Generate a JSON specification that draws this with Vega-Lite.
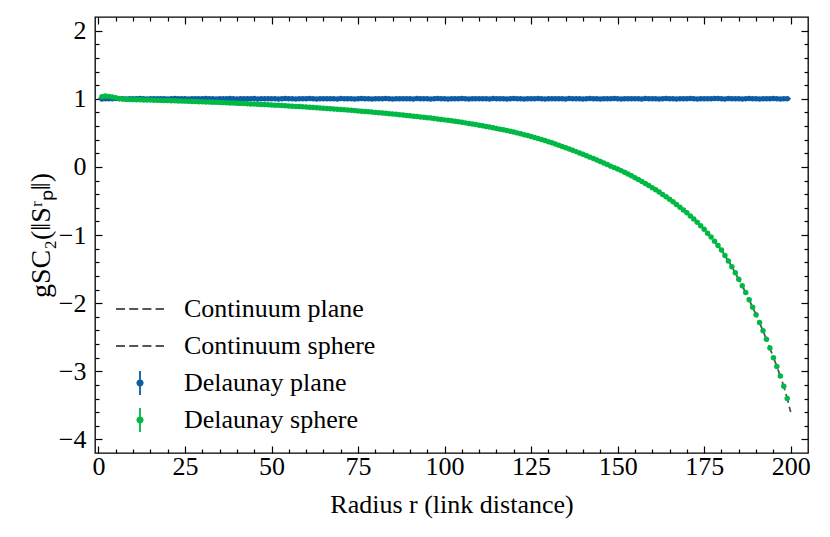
{
"$schema": "https://vega.github.io/schema/vega-lite/v6.json",
"width": 713, "height": 436,
"autosize": {"type": "none"},
"padding": {"left": 95, "top": 17, "right": 22, "bottom": 84},
"config": {
  "font": "Liberation Serif",
  "view": {"stroke": "#000", "strokeWidth": 1.3},
  "axis": {"domain": false, "grid": false, "tickColor": "#000", "tickWidth": 1.2, "labelColor": "#000", "titleColor": "#000", "labelFontSize": 26, "titleFontSize": 26, "titleFontWeight": "normal", "labelFont": "Liberation Serif", "titleFont": "Liberation Serif"}
},
"datasets": {
  "cplane": [{"r":0,"v":1},{"r":200,"v":1}],
  "csphere": [{"r":0,"v":1},{"r":10,"v":0.99},{"r":20,"v":0.975},{"r":30,"v":0.957},{"r":40,"v":0.935},{"r":50,"v":0.91},{"r":60,"v":0.878},{"r":70,"v":0.842},{"r":80,"v":0.8},{"r":90,"v":0.75},{"r":100,"v":0.69},{"r":110,"v":0.612},{"r":120,"v":0.512},{"r":130,"v":0.37},{"r":140,"v":0.185},{"r":150,"v":-0.03},{"r":155,"v":-0.158},{"r":160,"v":-0.305},{"r":165,"v":-0.475},{"r":170,"v":-0.675},{"r":175,"v":-0.915},{"r":180,"v":-1.22},{"r":183,"v":-1.465},{"r":186,"v":-1.745},{"r":188,"v":-1.95},{"r":190,"v":-2.17},{"r":192,"v":-2.405},{"r":194,"v":-2.66},{"r":196,"v":-2.93},{"r":198,"v":-3.22},{"r":199,"v":-3.4},{"r":200,"v":-3.6}],
  "plane": [
{"r":1,"v":0.998},{"r":2,"v":1.001},{"r":3,"v":0.999},{"r":4,"v":1.0},{"r":5,"v":1.002},{"r":6,"v":0.999},{"r":7,"v":1.0},{"r":8,"v":0.998},{"r":9,"v":1.001},{"r":10,"v":1.0},
{"r":11,"v":0.999},{"r":12,"v":1.002},{"r":13,"v":1.0},{"r":14,"v":0.998},{"r":15,"v":1.001},{"r":16,"v":1.0},{"r":17,"v":0.999},{"r":18,"v":1.001},{"r":19,"v":1.0},{"r":20,"v":0.998},
{"r":21,"v":1.0},{"r":22,"v":1.002},{"r":23,"v":0.999},{"r":24,"v":1.0},{"r":25,"v":1.001},{"r":26,"v":0.998},{"r":27,"v":1.0},{"r":28,"v":1.001},{"r":29,"v":0.999},{"r":30,"v":1.0},
{"r":31,"v":1.002},{"r":32,"v":0.999},{"r":33,"v":1.0},{"r":34,"v":0.998},{"r":35,"v":1.001},{"r":36,"v":1.0},{"r":37,"v":0.999},{"r":38,"v":1.002},{"r":39,"v":1.0},{"r":40,"v":0.998},
{"r":41,"v":1.001},{"r":42,"v":1.0},{"r":43,"v":0.999},{"r":44,"v":1.0},{"r":45,"v":1.002},{"r":46,"v":0.998},{"r":47,"v":1.0},{"r":48,"v":1.001},{"r":49,"v":0.999},{"r":50,"v":1.0},
{"r":51,"v":1.001},{"r":52,"v":0.998},{"r":53,"v":1.0},{"r":54,"v":1.002},{"r":55,"v":0.999},{"r":56,"v":1.0},{"r":57,"v":0.998},{"r":58,"v":1.001},{"r":59,"v":1.0},{"r":60,"v":0.999},
{"r":61,"v":1.002},{"r":62,"v":1.0},{"r":63,"v":0.998},{"r":64,"v":1.001},{"r":65,"v":1.0},{"r":66,"v":0.999},{"r":67,"v":1.001},{"r":68,"v":1.0},{"r":69,"v":0.998},{"r":70,"v":1.002},
{"r":71,"v":0.999},{"r":72,"v":1.0},{"r":73,"v":1.001},{"r":74,"v":0.998},{"r":75,"v":1.0},{"r":76,"v":1.002},{"r":77,"v":0.999},{"r":78,"v":1.0},{"r":79,"v":0.998},{"r":80,"v":1.001},
{"r":81,"v":1.0},{"r":82,"v":0.999},{"r":83,"v":1.002},{"r":84,"v":1.0},{"r":85,"v":0.998},{"r":86,"v":1.001},{"r":87,"v":1.0},{"r":88,"v":0.999},{"r":89,"v":1.001},{"r":90,"v":1.0},
{"r":91,"v":0.998},{"r":92,"v":1.002},{"r":93,"v":0.999},{"r":94,"v":1.0},{"r":95,"v":1.001},{"r":96,"v":0.998},{"r":97,"v":1.0},{"r":98,"v":1.002},{"r":99,"v":0.999},{"r":100,"v":1.0},
{"r":101,"v":0.998},{"r":102,"v":1.001},{"r":103,"v":1.0},{"r":104,"v":0.999},{"r":105,"v":1.002},{"r":106,"v":1.0},{"r":107,"v":0.998},{"r":108,"v":1.001},{"r":109,"v":1.0},{"r":110,"v":0.999},
{"r":111,"v":1.001},{"r":112,"v":1.0},{"r":113,"v":0.998},{"r":114,"v":1.002},{"r":115,"v":0.999},{"r":116,"v":1.0},{"r":117,"v":1.001},{"r":118,"v":0.998},{"r":119,"v":1.0},{"r":120,"v":1.002},
{"r":121,"v":0.999},{"r":122,"v":1.0},{"r":123,"v":0.998},{"r":124,"v":1.001},{"r":125,"v":1.0},{"r":126,"v":0.999},{"r":127,"v":1.002},{"r":128,"v":1.0},{"r":129,"v":0.998},{"r":130,"v":1.001},
{"r":131,"v":1.0},{"r":132,"v":0.999},{"r":133,"v":1.001},{"r":134,"v":1.0},{"r":135,"v":0.998},{"r":136,"v":1.002},{"r":137,"v":0.999},{"r":138,"v":1.0},{"r":139,"v":1.001},{"r":140,"v":0.998},
{"r":141,"v":1.0},{"r":142,"v":1.002},{"r":143,"v":0.999},{"r":144,"v":1.0},{"r":145,"v":0.998},{"r":146,"v":1.001},{"r":147,"v":1.0},{"r":148,"v":0.999},{"r":149,"v":1.002},{"r":150,"v":1.0},
{"r":151,"v":0.998},{"r":152,"v":1.001},{"r":153,"v":1.0},{"r":154,"v":0.999},{"r":155,"v":1.001},{"r":156,"v":1.0},{"r":157,"v":0.998},{"r":158,"v":1.002},{"r":159,"v":0.999},{"r":160,"v":1.0},
{"r":161,"v":1.001},{"r":162,"v":0.998},{"r":163,"v":1.0},{"r":164,"v":1.002},{"r":165,"v":0.999},{"r":166,"v":1.0},{"r":167,"v":0.998},{"r":168,"v":1.001},{"r":169,"v":1.0},{"r":170,"v":0.999},
{"r":171,"v":1.002},{"r":172,"v":1.0},{"r":173,"v":0.998},{"r":174,"v":1.001},{"r":175,"v":1.0},{"r":176,"v":0.999},{"r":177,"v":1.001},{"r":178,"v":1.004},{"r":179,"v":1.003},{"r":180,"v":1.0},
{"r":181,"v":0.998},{"r":182,"v":1.002},{"r":183,"v":0.999},{"r":184,"v":1.0},{"r":185,"v":1.001},{"r":186,"v":0.998},{"r":187,"v":1.0},{"r":188,"v":1.002},{"r":189,"v":0.999},{"r":190,"v":1.0},
{"r":191,"v":0.998},{"r":192,"v":1.001},{"r":193,"v":1.0},{"r":194,"v":0.999},{"r":195,"v":1.002},{"r":196,"v":1.0},{"r":197,"v":0.998},{"r":198,"v":1.001},{"r":199,"v":1.0}
  ],
  "sphere": [
{"r":1,"v":1.03},{"r":2,"v":1.04},{"r":3,"v":1.035},{"r":4,"v":1.025},{"r":5,"v":1.015},{"r":6,"v":1.005},{"r":7,"v":0.998},{"r":8,"v":0.993},{"r":9,"v":0.99},{"r":10,"v":0.987},
{"r":11,"v":0.986},{"r":12,"v":0.985},{"r":13,"v":0.983},{"r":14,"v":0.982},{"r":15,"v":0.98},{"r":16,"v":0.979},{"r":17,"v":0.977},{"r":18,"v":0.976},{"r":19,"v":0.974},{"r":20,"v":0.973},
{"r":21,"v":0.971},{"r":22,"v":0.97},{"r":23,"v":0.968},{"r":24,"v":0.967},{"r":25,"v":0.965},{"r":26,"v":0.963},{"r":27,"v":0.961},{"r":28,"v":0.959},{"r":29,"v":0.957},{"r":30,"v":0.955},
{"r":31,"v":0.953},{"r":32,"v":0.951},{"r":33,"v":0.949},{"r":34,"v":0.947},{"r":35,"v":0.945},{"r":36,"v":0.943},{"r":37,"v":0.941},{"r":38,"v":0.938},{"r":39,"v":0.936},{"r":40,"v":0.934},
{"r":41,"v":0.932},{"r":42,"v":0.929},{"r":43,"v":0.927},{"r":44,"v":0.924},{"r":45,"v":0.922},{"r":46,"v":0.919},{"r":47,"v":0.917},{"r":48,"v":0.914},{"r":49,"v":0.912},{"r":50,"v":0.909},
{"r":51,"v":0.906},{"r":52,"v":0.903},{"r":53,"v":0.9},{"r":54,"v":0.897},{"r":55,"v":0.894},{"r":56,"v":0.891},{"r":57,"v":0.888},{"r":58,"v":0.885},{"r":59,"v":0.881},{"r":60,"v":0.878},
{"r":61,"v":0.875},{"r":62,"v":0.871},{"r":63,"v":0.868},{"r":64,"v":0.864},{"r":65,"v":0.861},{"r":66,"v":0.857},{"r":67,"v":0.853},{"r":68,"v":0.85},{"r":69,"v":0.846},{"r":70,"v":0.842},
{"r":71,"v":0.838},{"r":72,"v":0.834},{"r":73,"v":0.83},{"r":74,"v":0.826},{"r":75,"v":0.822},{"r":76,"v":0.818},{"r":77,"v":0.813},{"r":78,"v":0.809},{"r":79,"v":0.804},{"r":80,"v":0.8},
{"r":81,"v":0.795},{"r":82,"v":0.79},{"r":83,"v":0.786},{"r":84,"v":0.781},{"r":85,"v":0.776},{"r":86,"v":0.771},{"r":87,"v":0.766},{"r":88,"v":0.76},{"r":89,"v":0.755},{"r":90,"v":0.75},
{"r":91,"v":0.744},{"r":92,"v":0.739},{"r":93,"v":0.733},{"r":94,"v":0.728},{"r":95,"v":0.722},{"r":96,"v":0.716},{"r":97,"v":0.709},{"r":98,"v":0.703},{"r":99,"v":0.696},{"r":100,"v":0.69},
{"r":101,"v":0.683},{"r":102,"v":0.676},{"r":103,"v":0.669},{"r":104,"v":0.662},{"r":105,"v":0.654},{"r":106,"v":0.646},{"r":107,"v":0.638},{"r":108,"v":0.629},{"r":109,"v":0.621},{"r":110,"v":0.612},
{"r":111,"v":0.603},{"r":112,"v":0.594},{"r":113,"v":0.584},{"r":114,"v":0.574},{"r":115,"v":0.564},{"r":116,"v":0.554},{"r":117,"v":0.544},{"r":118,"v":0.533},{"r":119,"v":0.523},{"r":120,"v":0.512},
{"r":121,"v":0.499},{"r":122,"v":0.486},{"r":123,"v":0.473},{"r":124,"v":0.46},{"r":125,"v":0.446},{"r":126,"v":0.432},{"r":127,"v":0.417},{"r":128,"v":0.402},{"r":129,"v":0.386},{"r":130,"v":0.37},
{"r":131,"v":0.353},{"r":132,"v":0.336},{"r":133,"v":0.318},{"r":134,"v":0.3},{"r":135,"v":0.281},{"r":136,"v":0.262},{"r":137,"v":0.243},{"r":138,"v":0.224},{"r":139,"v":0.205},{"r":140,"v":0.185},
{"r":141,"v":0.164},{"r":142,"v":0.143},{"r":143,"v":0.122},{"r":144,"v":0.1},{"r":145,"v":0.078},{"r":146,"v":0.056},{"r":147,"v":0.034},{"r":148,"v":0.011},{"r":149,"v":-0.011},{"r":150,"v":-0.03},
{"r":151,"v":-0.055},{"r":152,"v":-0.08},{"r":153,"v":-0.105},{"r":154,"v":-0.131},{"r":155,"v":-0.158},{"r":156,"v":-0.186},{"r":157,"v":-0.214},{"r":158,"v":-0.244},{"r":159,"v":-0.274},{"r":160,"v":-0.305},
{"r":161,"v":-0.337},{"r":162,"v":-0.37},{"r":163,"v":-0.404},{"r":164,"v":-0.439},{"r":165,"v":-0.475},{"r":166,"v":-0.513},{"r":167,"v":-0.551},{"r":168,"v":-0.591},{"r":169,"v":-0.632},{"r":170,"v":-0.675},
{"r":171,"v":-0.72},{"r":172,"v":-0.766},{"r":173,"v":-0.813},{"r":174,"v":-0.863},{"r":175,"v":-0.915},{"r":176,"v":-0.975},{"r":177,"v":-1.03},{"r":178,"v":-1.09},{"r":179,"v":-1.155},{"r":180,"v":-1.22},
{"r":181,"v":-1.3},{"r":182,"v":-1.38},{"r":183,"v":-1.465},{"r":184,"v":-1.555},{"r":185,"v":-1.65},{"r":186,"v":-1.745},{"r":187,"v":-1.845},{"r":188,"v":-1.95},{"r":189,"v":-2.06},{"r":190,"v":-2.17},
{"r":191,"v":-2.285},{"r":192,"v":-2.405},{"r":193,"v":-2.53},{"r":194,"v":-2.66},{"r":195,"v":-2.8},{"r":196,"v":-2.93},{"r":197,"v":-3.07},{"r":198,"v":-3.22},{"r":199,"v":-3.4}
  ]
},
"layer": [
  {
    "data": {"name": "cplane"},
    "mark": {"type": "line", "strokeDash": [9, 4], "strokeWidth": 1.8},
    "encoding": {
      "x": {"field": "r", "type": "quantitative", "scale": {"domain": [-1, 205], "nice": false, "zero": false},
        "axis": {"orient": "bottom", "values": [0,25,50,75,100,125,150,175,200], "tickSize": -7, "labelPadding": 7, "title": "Radius r (link distance)", "titlePadding": 12}},
      "y": {"field": "v", "type": "quantitative", "scale": {"domain": [-4.2, 2.2], "nice": false, "zero": false},
        "axis": {"orient": "left", "values": [-4,-3,-2,-1,0,1,2], "tickSize": -7, "labelPadding": 16, "title": "gSC₂(‖Sʳₚ‖)", "titleFontSize": 28, "titlePadding": 3}},
      "color": {"datum": "Continuum plane", "type": "nominal",
        "scale": {"domain": ["Continuum plane", "Continuum sphere", "Delaunay plane", "Delaunay sphere"], "range": ["#555555", "#555555", "#0C5DA5", "#00B945"]},
        "legend": {"orient": "none", "legendX": 32, "legendY": 279, "padding": 0, "title": null,
          "labelFontSize": 26, "labelFont": "Liberation Serif", "labelColor": "#000", "labelOffset": 31, "labelLimit": 0,
          "symbolSize": 576, "rowPadding": 5, "gridAlign": "all", "symbolStrokeWidth": 1.8,
          "encode": {"symbols": {"update": {
            "shape": {"signal": "indexof(datum.value,'Continuum')===0 ? 'M-2,0L2,0' : 'M-0.22,0A0.22,0.22,0,1,0,0.22,0A0.22,0.22,0,1,0,-0.22,0ZM0,-1L0,1'"},
            "strokeDash": {"signal": "indexof(datum.value,'Continuum')===0 ? [9,4.2] : [1,0]"},
            "stroke": {"signal": "scale('color', datum.value)"},
            "fill": {"signal": "scale('color', datum.value)"},
            "opacity": {"value": 1}
          }}}}
      }
    }
  },
  {
    "data": {"name": "csphere"},
    "mark": {"type": "line", "strokeDash": [9, 4], "strokeWidth": 1.8},
    "encoding": {
      "x": {"field": "r", "type": "quantitative", "scale": {"domain": [-1, 205], "nice": false, "zero": false},
        "axis": {"orient": "bottom", "values": [5,10,15,20,30,35,40,45,55,60,65,70,80,85,90,95,105,110,115,120,130,135,140,145,155,160,165,170,180,185,190,195], "tickSize": -4, "labels": false, "title": null}},
      "y": {"field": "v", "type": "quantitative", "scale": {"domain": [-4.2, 2.2], "nice": false, "zero": false},
        "axis": {"orient": "left", "values": [-3.8,-3.6,-3.4,-3.2,-2.8,-2.6,-2.4,-2.2,-1.8,-1.6,-1.4,-1.2,-0.8,-0.6,-0.4,-0.2,0.2,0.4,0.6,0.8,1.2,1.4,1.6,1.8], "tickSize": -4, "labels": false, "title": null}},
      "color": {"datum": "Continuum sphere", "type": "nominal"}
    }
  },
  {
    "data": {"name": "plane"},
    "mark": {"type": "point", "filled": true, "opacity": 1, "size": 30, "shape": "circle"},
    "encoding": {
      "x": {"field": "r", "type": "quantitative", "scale": {"domain": [-1, 205], "nice": false, "zero": false},
        "axis": {"orient": "top", "values": [0,25,50,75,100,125,150,175,200], "tickSize": -7, "labels": false, "title": null}},
      "y": {"field": "v", "type": "quantitative", "scale": {"domain": [-4.2, 2.2], "nice": false, "zero": false},
        "axis": {"orient": "right", "values": [-4,-3,-2,-1,0,1,2], "tickSize": -7, "labels": false, "title": null}},
      "color": {"datum": "Delaunay plane", "type": "nominal"}
    }
  },
  {
    "data": {"name": "sphere"},
    "mark": {"type": "point", "filled": true, "opacity": 1, "size": 30, "shape": "circle"},
    "encoding": {
      "x": {"field": "r", "type": "quantitative", "scale": {"domain": [-1, 205], "nice": false, "zero": false},
        "axis": {"orient": "top", "values": [5,10,15,20,30,35,40,45,55,60,65,70,80,85,90,95,105,110,115,120,130,135,140,145,155,160,165,170,180,185,190,195], "tickSize": -4, "labels": false, "title": null}},
      "y": {"field": "v", "type": "quantitative", "scale": {"domain": [-4.2, 2.2], "nice": false, "zero": false},
        "axis": {"orient": "right", "values": [-3.8,-3.6,-3.4,-3.2,-2.8,-2.6,-2.4,-2.2,-1.8,-1.6,-1.4,-1.2,-0.8,-0.6,-0.4,-0.2,0.2,0.4,0.6,0.8,1.2,1.4,1.6,1.8], "tickSize": -4, "labels": false, "title": null}},
      "color": {"datum": "Delaunay sphere", "type": "nominal"}
    }
  }
],
"resolve": {"scale": {"x": "independent", "y": "independent"}}
}
